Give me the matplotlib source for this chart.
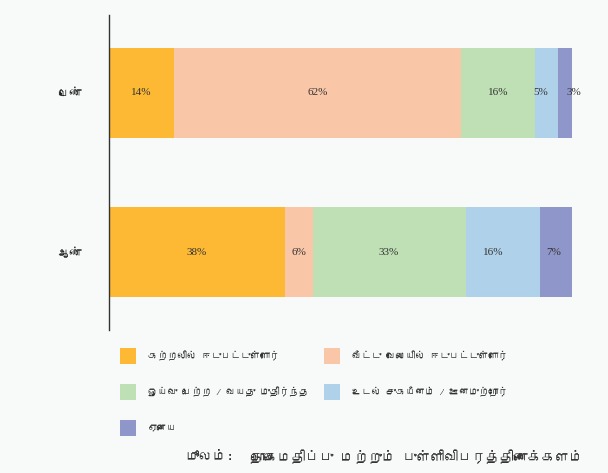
import matplotlib
matplotlib.use('Agg')
import matplotlib.pyplot as plt
from matplotlib import font_manager
from matplotlib.ft2font import FT2Font
from matplotlib.patches import Rectangle

# data
groups = ['ஆண்', 'பெண்']
categories = ['கற்றலில் ஈடுபட்டுள்ளோர்', 'வீட்டு வேலையில் ஈடுபட்டுள்ளோர்',
              'ஓய்வு பெற்ற / வயது முதிர்ந்த', 'உடல் சுகயீனம் / ஊனமுற்றோர்', 'ஏனைய']
male = [38, 6, 33, 16, 7]
female = [14, 62, 16, 5, 3]
colors = ['#FDB933', '#FAC6A8', '#BFE0B4', '#AFD1EA', '#8F96C9']
source_label = 'மூலம்:'
source_text = 'தொகைமதிப்பு மற்றும் புள்ளிவிபரத்திணைக்களம்'


# find a font that has Tamil glyphs
def find_tamil_font():
    seen = set()
    for f in font_manager.fontManager.ttflist:
        if f.fname in seen:
            continue
        seen.add(f.fname)
        try:
            ft = FT2Font(f.fname)
            if ft.get_char_index(0x0BA4) != 0 and ft.get_char_index(0x0B95) != 0:
                return f.name
        except Exception:
            pass
    return None


tamil = find_tamil_font()
fam = [tamil, 'DejaVu Sans'] if tamil else ['DejaVu Sans']

bg = '#F8F9F9'
fig = plt.figure(figsize=(6.08, 4.73), dpi=100, facecolor=bg)
ax = fig.add_axes([109/608, 1-330/473, (572-109)/608, 315/473])
ax.set_facecolor(bg)

data = [male, female]
for i_g in range(len(groups)):
    left = 0
    for j in range(len(categories)):
        v = data[i_g][j]
        ax.barh(i_g, v, left=left, height=0.57, color=colors[j], linewidth=0)
        left += v

# value labels (small segments nudged apart)
nudge = [[0, 0, 0, -2.0, -0.5], [0, 0, 0, -1.2, 1.8]]
for i_g in range(len(groups)):
    left = 0
    for j in range(len(categories)):
        v = data[i_g][j]
        ax.text(left + v/2 + nudge[i_g][j], i_g, str(v) + '%', ha='center', va='center',
                fontsize=8, family='Liberation Serif', color='#333333')
        left += v

ax.set_xlim(0, 100)
ax.set_ylim(-0.49, 1.49)
ax.set_yticks(range(len(groups)))
ax.set_yticklabels(groups, family=fam, fontsize=8.5, color='#222222')
ax.tick_params(axis='y', length=0, pad=28)
for lbl in ax.get_yticklabels():
    lbl.set_horizontalalignment('center')
ax.set_xticks([])
for s in ['top', 'right', 'bottom']:
    ax.spines[s].set_visible(False)
ax.spines['left'].set_color('#333333')
ax.spines['left'].set_linewidth(1.0)

# legend drawn by hand in figure pixels
pos = [(120, 356), (324, 356), (120, 392), (324, 392), (120, 428)]
for j in range(len(categories)):
    x, y = pos[j]
    fig.patches.append(Rectangle((x/608, 1-(y+8)/473), 16/608, 16/473,
                                 transform=fig.transFigure, color=colors[j], linewidth=0))
    fig.text((x+28)/608, 1-y/473, categories[j], family=fam, fontsize=7,
             va='center', ha='left', color='#333333')

fig.text(583/608, 1-457/473, source_text, family=fam, fontsize=10,
         ha='right', va='center', color='#333333')
fig.text(234/608, 1-457/473, source_label, family=fam, fontsize=10, style='italic',
         ha='right', va='center', color='#333333')

fig.savefig('out.png', dpi=100, facecolor=bg)
